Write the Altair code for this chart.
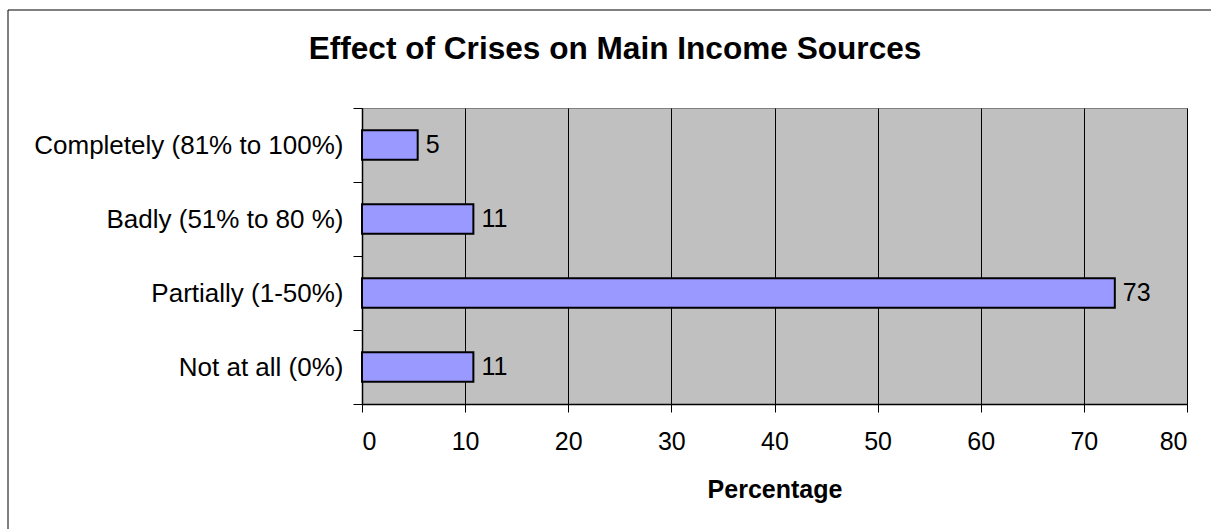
import altair as alt
import pandas as pd

categories = ["Completely (81% to 100%)", "Badly (51% to 80 %)", "Partially (1-50%)", "Not at all (0%)"]
values = [5.4, 10.8, 73.0, 10.8]
labels = ["5", "11", "73", "11"]
x_ticks = [0, 10, 20, 30, 40, 50, 60, 70, 80]
chart_title = "Effect of Crises on Main Income Sources"

df = pd.DataFrame({"cat": categories, "val": values, "lab": labels})

FONT = "Liberation Sans"

base = alt.Chart(df)

x = alt.X(
    "val:Q",
    title="Percentage",
    scale=alt.Scale(domain=[0, 80], nice=False, zero=True),
    axis=alt.Axis(
        values=x_ticks,
        grid=True,
        gridColor="#000000",
        gridWidth=1,
        gridOpacity=1,
        domainColor="#000000",
        domainWidth=1.5,
        tickColor="#000000",
        tickSize=8,
        labelFontSize=25,
        labelFont=FONT,
        labelColor="#000000",
        labelPadding=17,
        titleFont=FONT,
        titleFontSize=25,
        titleFontWeight="bold",
        titleColor="#000000",
        titleBaseline="alphabetic",
        titleY=93,
    ),
)

y = alt.Y(
    "cat:N",
    sort=categories,
    title=None,
    scale=alt.Scale(paddingInner=0, paddingOuter=0),
    axis=alt.Axis(
        grid=False,
        tickBand="extent",
        tickExtra=True,
        tickSize=9,
        tickColor="#000000",
        domainColor="#000000",
        domainWidth=1.5,
        labelFontSize=26,
        labelFont=FONT,
        labelColor="#000000",
        labelPadding=10,
        labelLimit=400,
    ),
)

bars = base.mark_bar(
    color="#9999FF", stroke="#000000", strokeWidth=2, height=alt.RelativeBandSize(band=0.4)
).encode(x=x, y=y)

text = base.mark_text(align="left", baseline="middle", dx=8, fontSize=25, font=FONT, color="#000000").encode(
    x="val:Q", y=alt.Y("cat:N", sort=categories), text="lab:N"
)

frame_df = pd.DataFrame({"t": [chart_title]})
left_line = alt.Chart(frame_df).mark_rule(color="#000000", strokeWidth=1).encode(
    x=alt.value(-354), y=alt.value(-98), y2=alt.value(421)
)
top_line = alt.Chart(frame_df).mark_rule(color="#000000", strokeWidth=1).encode(
    x=alt.value(-354), x2=alt.value(849), y=alt.value(-98)
)
title_text = alt.Chart(frame_df).mark_text(
    font=FONT, fontSize=31.6, fontWeight="bold", color="#000000", align="center", baseline="alphabetic"
).encode(x=alt.value(253), y=alt.value(-49), text="t:N")

chart = (
    alt.layer(bars, text, left_line, top_line, title_text)
    .properties(
        width=825,
        height=296,
        autosize=alt.AutoSizeParams(type="none"),
        padding={"left": 362, "top": 108, "right": 24, "bottom": 125},
        background="#FFFFFF",
    )
    .configure_view(fill="#C0C0C0", stroke="#808080", strokeWidth=1)
)

chart.save("out.html", embed_options={"renderer": "svg", "actions": False})
